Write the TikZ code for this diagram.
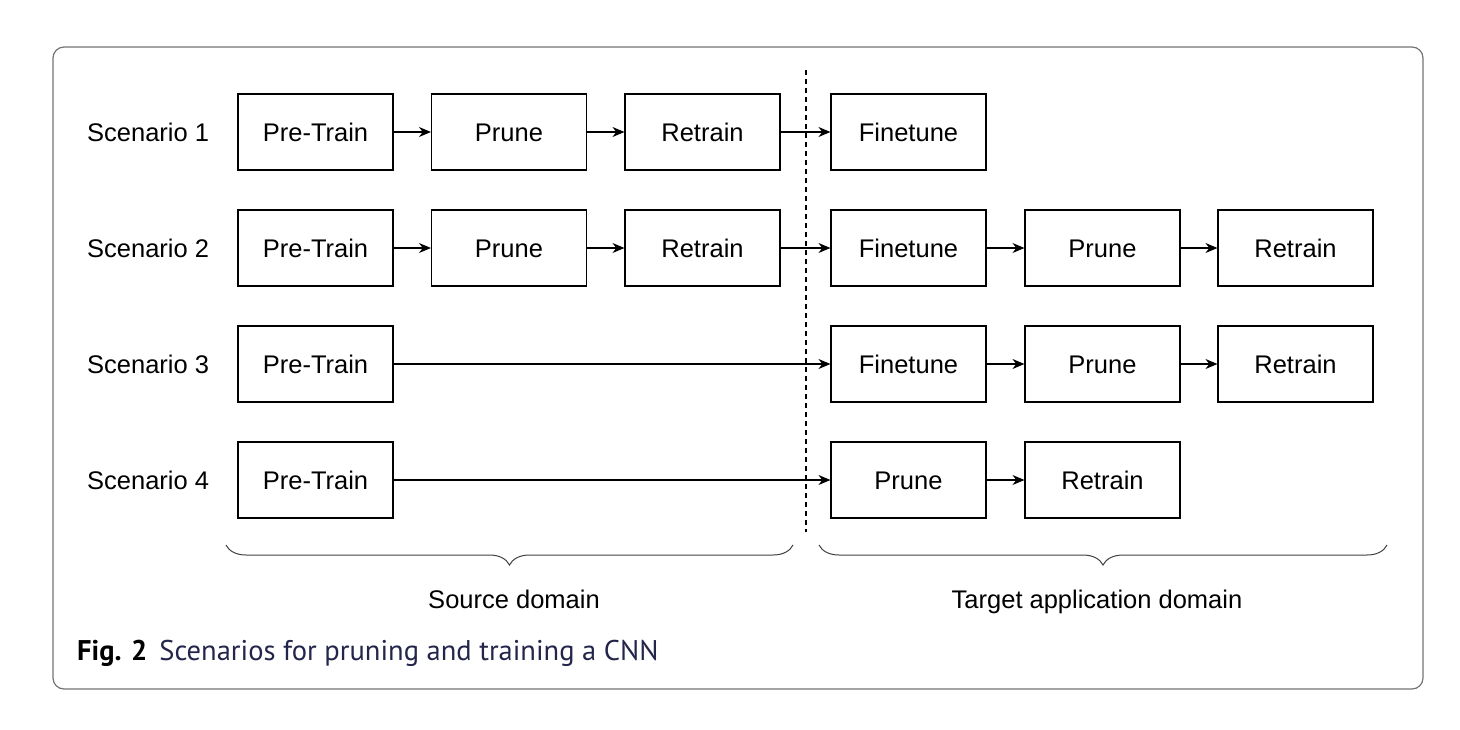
\documentclass[tikz,border=0pt]{standalone}
\usepackage{fontspec}
\setmainfont{Liberation Sans}
\newfontfamily\capfont{PT Sans}
\usetikzlibrary{arrows.meta,decorations.pathreplacing}
\definecolor{capblue}{HTML}{23254A}
\begin{document}
\begin{tikzpicture}[x=1pt,y=-1pt,
  uni/.style={text height=18pt,text depth=0pt},
  stepbox/.style={draw,line width=1.1pt,minimum width=155pt,minimum height=76pt,inner sep=0pt,font=\fontsize{25.5}{30}\selectfont,uni},
  lbl/.style={font=\fontsize{25.5}{30}\selectfont,anchor=west,inner sep=0pt,uni},
  arr/.style={line width=1.1pt,-{Stealth[length=12pt,width=10pt]}},
  brc/.style={draw=black!75,line width=1pt,decorate,decoration={brace,mirror,amplitude=20pt}}]
\useasboundingbox (0,0) rectangle (1460,729);
\draw[draw=black!55,line width=1.2pt,rounded corners=11pt] (53,47) rectangle (1423,689);
% column centers
\def\ca{315.5}\def\cb{509}\def\cc{702.5}\def\cd{908.5}\def\ce{1102.5}\def\cf{1295.5}
% row 1
\node[lbl] (s1) at (87,132) {Scenario 1};
\node[stepbox] (a1) at (\ca,132) {Pre-Train};
\node[stepbox] (b1) at (\cb,132) {Prune};
\node[stepbox] (c1) at (\cc,132) {Retrain};
\node[stepbox] (d1) at (\cd,132) {Finetune};
\draw[arr] (a1) -- (b1); \draw[arr] (b1) -- (c1); \draw[arr] (c1) -- (d1);
% row 2
\node[lbl] (s2) at (87,248) {Scenario 2};
\node[stepbox] (a2) at (\ca,248) {Pre-Train};
\node[stepbox] (b2) at (\cb,248) {Prune};
\node[stepbox] (c2) at (\cc,248) {Retrain};
\node[stepbox] (d2) at (\cd,248) {Finetune};
\node[stepbox] (e2) at (\ce,248) {Prune};
\node[stepbox] (f2) at (\cf,248) {Retrain};
\draw[arr] (a2) -- (b2); \draw[arr] (b2) -- (c2); \draw[arr] (c2) -- (d2);
\draw[arr] (d2) -- (e2); \draw[arr] (e2) -- (f2);
% row 3
\node[lbl] (s3) at (87,364) {Scenario 3};
\node[stepbox] (a3) at (\ca,364) {Pre-Train};
\node[stepbox] (d3) at (\cd,364) {Finetune};
\node[stepbox] (e3) at (\ce,364) {Prune};
\node[stepbox] (f3) at (\cf,364) {Retrain};
\draw[arr] (a3) -- (d3); \draw[arr] (d3) -- (e3); \draw[arr] (e3) -- (f3);
% row 4
\node[lbl] (s4) at (87,480) {Scenario 4};
\node[stepbox] (a4) at (\ca,480) {Pre-Train};
\node[stepbox] (d4) at (\cd,480) {Prune};
\node[stepbox] (e4) at (\ce,480) {Retrain};
\draw[arr] (a4) -- (d4); \draw[arr] (d4) -- (e4);
% divider
\coordinate (dt) at (806,70);
\coordinate (db) at (806,532);
\draw[line width=1.1pt,dash pattern=on 5pt off 4pt] (dt) -- (db);
% braces
\coordinate (bl1) at (226,545); \coordinate (bl2) at (793,545);
\coordinate (br1) at (819,545); \coordinate (br2) at (1387,545);
\draw[brc] (bl1) -- (bl2);
\draw[brc] (br1) -- (br2);
\node[font=\fontsize{25.5}{30}\selectfont,uni] (src) at (514,599) {Source domain};
\node[font=\fontsize{25.5}{30}\selectfont,uni] (tgt) at (1097,599) {Target application domain};
% caption
\node[anchor=base west,inner sep=0pt,font=\capfont\fontsize{28.5}{34}\selectfont] (cap) at (77,660)
  {\textbf{Fig. 2}\hspace{12pt}\textcolor{capblue}{Scenarios for pruning and training a CNN}};
\end{tikzpicture}
\end{document}
